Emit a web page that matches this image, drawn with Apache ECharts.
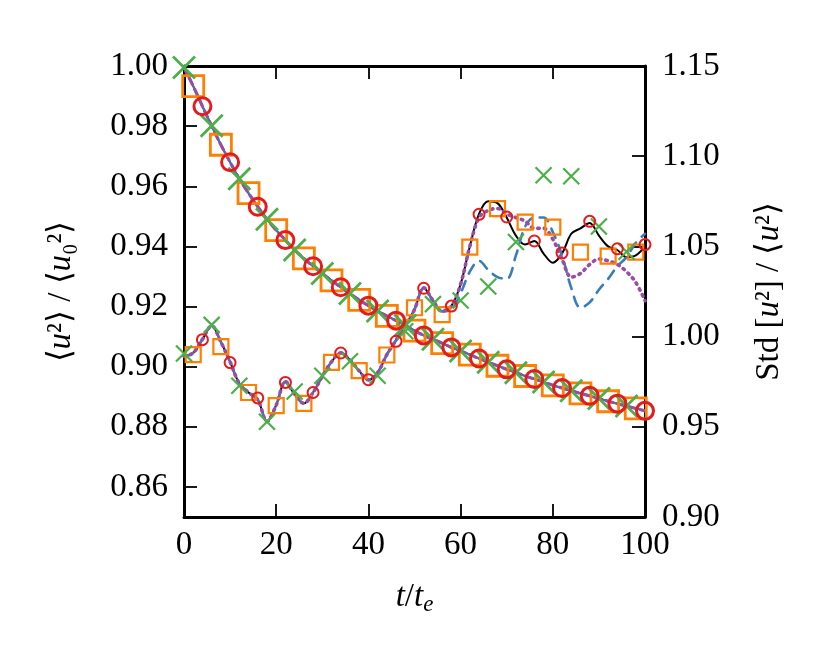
<!DOCTYPE html>
<html>
<head>
<meta charset="utf-8">
<script src="https://cdn.jsdelivr.net/npm/echarts@6/dist/echarts.min.js"></script>
<style>html,body{margin:0;padding:0;background:#fff}#c{width:830px;height:664px}</style>
</head>
<body>
<div id="c"></div>
<script>
// time samples t/t_e
var t = [0,2,4,6,8,10,12,14,16,18,20,22,24,26,28,30,32,34,36,38,40,42,44,46,48,50,52,54,56,58,60,62,64,66,68,70,72,74,76,78,80,82,84,86,88,90,92,94,96,98,100];
// <u^2>/<u0^2> (left axis)
var decay = [0.9995,0.9933,0.9866,0.9801,0.9738,0.9680,0.9625,0.9577,0.9532,0.9490,0.9454,0.9421,0.9388,0.9360,0.9334,0.9310,0.9287,0.9264,0.9243,0.9222,0.9203,0.9185,0.9169,0.9153,0.9137,0.9120,0.9104,0.9091,0.9078,0.9064,0.9052,0.9040,0.9027,0.9015,0.9003,0.8991,0.8980,0.8969,0.8959,0.8949,0.8938,0.8929,0.8920,0.8911,0.8903,0.8894,0.8885,0.8877,0.8869,0.8861,0.8853];
// Std[u^2]/<u^2> (right axis)
var stdBlack = [0.989,0.991,0.9985,1.006,0.997,0.986,0.974,0.969,0.965,0.953,0.962,0.975,0.968,0.963,0.969,0.978,0.986,0.991,0.987,0.981,0.976,0.980,0.990,0.998,1.006,1.015,1.027,1.020,1.014,1.017,1.029,1.050,1.068,1.075,1.074,1.066,1.056,1.051,1.053,1.046,1.041,1.046,1.057,1.060,1.063,1.056,1.050,1.048,1.044,1.045,1.050];
var stdBlue = [0.989,0.991,0.9985,1.006,0.997,0.986,0.974,0.969,0.965,0.953,0.962,0.975,0.968,0.963,0.969,0.978,0.986,0.991,0.987,0.981,0.976,0.980,0.990,0.998,1.006,1.015,1.027,1.020,1.014,1.015,1.024,1.036,1.042,1.037,1.033,1.032,1.045,1.061,1.066,1.066,1.058,1.045,1.027,1.016,1.019,1.026,1.032,1.039,1.044,1.052,1.057];
var stdPurple = [0.989,0.991,0.9985,1.006,0.997,0.986,0.974,0.969,0.965,0.953,0.962,0.975,0.968,0.963,0.969,0.978,0.986,0.991,0.987,0.981,0.976,0.980,0.990,0.998,1.006,1.015,1.027,1.020,1.014,1.017,1.029,1.050,1.066,1.070,1.071,1.068,1.066,1.064,1.060,1.060,1.054,1.043,1.033,1.035,1.040,1.043,1.042,1.040,1.036,1.030,1.020];
// marker samples
var circleT = [4,10,16,22,28,34,40,46,52,58,64,70,76,82,88,94,100];
var squareT = [2,8,14,20,26,32,38,44,50,56,62,68,74,80,86,92,98];
var crossT  = [0,6,12,18,24,30,36,42,48,54,60,66,72,78,84,90,96];
var stdCircle = [0.9983,0.9856,0.966,0.9746,0.969,0.9909,0.9761,0.9974,1.0268,1.0169,1.0678,1.0663,1.053,1.0463,1.0639,1.0487,1.051];
var stdSquare = [0.990,0.9944,0.969,0.9617,0.963,0.9857,0.9811,0.9898,1.016,1.0122,1.0496,1.0709,1.0635,1.0607,1.0468,1.0446,1.0468];
var stdCross  = [0.9906,1.0065,0.9728,0.9528,0.9696,0.9783,0.9863,0.9783,1.003,1.018,1.020,1.0278,1.0524,1.0894,1.0889,1.061,1.047];
// tick labels
var xTicks = [0,20,40,60,80,100];
var leftTicks = [0.86,0.88,0.90,0.92,0.94,0.96,0.98,1.00];
var rightTicks = [0.90,0.95,1.00,1.05,1.10,1.15];

var BLACK='#000000', BLUE='#377eb8', PURPLE='#984ea3', GREEN='#4daf4a', ORANGE='#ff7f00', RED='#e41a1c';
var FONT='Liberation Serif';
var FS=33;
function pairs(xs, ys){ return xs.map(function(x,i){return [x, ys[i]];}); }
function pick(xs){ return xs.map(function(x){ return [x, decay[t.indexOf(x)]]; }); }
var CROSS='path://M0,0L10,10M10,0L0,10';

function lineS(data, color, width, type, yi){
  return {type:'line', yAxisIndex:yi, data:pairs(t,data), showSymbol:false, symbol:'none', smooth:0.35,
    lineStyle:{color:color, width:width, type:type, cap:'round', opacity:1}, silent:true, animation:false, z:2};
}
function markS(data, sym, size, color, bw, yi, z){
  return {type:'scatter', yAxisIndex:yi, data:data, symbol:sym, symbolSize:size,
    itemStyle:{color:'rgba(0,0,0,0)', borderColor:color, borderWidth:bw, opacity:1}, silent:true, animation:false, z:z};
}

var chart = echarts.init(document.getElementById('c'), null, {renderer:'canvas'});
var axisLabelStyle = {fontFamily:FONT, fontSize:FS, color:'#000'};
chart.setOption({
  animation:false,
  backgroundColor:'#fff',
  grid:{left:184, right:185, top:66, bottom:147, containLabel:false},
  xAxis:[{
    type:'value', min:0, max:100, interval:20, position:'bottom',
    name:'{i|t}/{i|t}{s|e}', nameLocation:'middle', nameGap:62,
    nameTextStyle:{fontFamily:FONT, fontSize:FS, color:'#000', rich:{i:{fontFamily:FONT,fontStyle:'italic',fontSize:FS}, s:{fontFamily:FONT,fontStyle:'italic',fontSize:23, padding:[14,0,0,0]}}},
    axisLine:{show:true, onZero:false, lineStyle:{color:'#000', width:3}},
    axisTick:{show:true, inside:true, length:13, lineStyle:{width:1.8, color:'#000'}},
    axisLabel:Object.assign({margin:12, customValues:xTicks, formatter:function(v){return String(v);}}, axisLabelStyle),
    splitLine:{show:false}
  },{
    type:'value', min:0, max:100, interval:20, position:'top',
    axisLine:{show:true, onZero:false, lineStyle:{color:'#000', width:3}},
    axisTick:{show:true, inside:true, length:13, lineStyle:{width:1.8, color:'#000'}},
    axisLabel:{show:false}, splitLine:{show:false}
  }],
  yAxis:[{
    type:'value', min:0.85, max:1.00, position:'left',
    name:'⟨{i|u}²⟩ / ⟨{i|u}₀²⟩', nameLocation:'middle', nameGap:106, nameRotate:90,
    nameTextStyle:{fontFamily:FONT, fontSize:FS, color:'#000', rich:{i:{fontFamily:FONT,fontStyle:'italic',fontSize:FS}}},
    axisLine:{show:true, onZero:false, lineStyle:{color:'#000', width:3}},
    axisTick:{show:true, inside:true, length:13, customValues:leftTicks, lineStyle:{width:1.8, color:'#000'}},
    axisLabel:Object.assign({margin:16, customValues:leftTicks, formatter:function(v){return v.toFixed(2);}}, axisLabelStyle),
    splitLine:{show:false}
  },{
    type:'value', min:0.90, max:1.15, position:'right',
    name:'Std [{i|u}²] / ⟨{i|u}²⟩', nameLocation:'middle', nameGap:108, nameRotate:90,
    nameTextStyle:{fontFamily:FONT, fontSize:FS, color:'#000', rich:{i:{fontFamily:FONT,fontStyle:'italic',fontSize:FS}}},
    axisLine:{show:true, onZero:false, lineStyle:{color:'#000', width:3}},
    axisTick:{show:true, inside:true, length:13, customValues:rightTicks, lineStyle:{width:1.8, color:'#000'}},
    axisLabel:Object.assign({margin:17, customValues:rightTicks, formatter:function(v){return v.toFixed(2);}}, axisLabelStyle),
    splitLine:{show:false}
  }],
  series:[
    lineS(decay, BLACK, 1.8, 'solid', 0),
    lineS(decay, BLUE, 2.2, 'solid', 0),
    lineS(decay, PURPLE, 3.2, [7,5], 0),
    lineS(stdBlack, BLACK, 2, 'solid', 1),
    lineS(stdBlue, BLUE, 2.6, [10,8], 1),
    lineS(stdPurple, PURPLE, 3.6, [1.5,5], 1),
    markS(pick(squareT), 'rect', 21, ORANGE, 2.8, 0, 3),
    markS(pick(crossT), CROSS, 22, GREEN, 2.8, 0, 4),
    markS(pick(circleT), 'circle', 17, RED, 3, 0, 5),
    markS(pairs(squareT, stdSquare), 'rect', 15, ORANGE, 2.2, 1, 3),
    markS(pairs(crossT, stdCross), CROSS, 16, GREEN, 2.2, 1, 4),
    markS(pairs(circleT, stdCircle), 'circle', 11, RED, 2, 1, 5)
  ]
});
</script>
</body>
</html>
